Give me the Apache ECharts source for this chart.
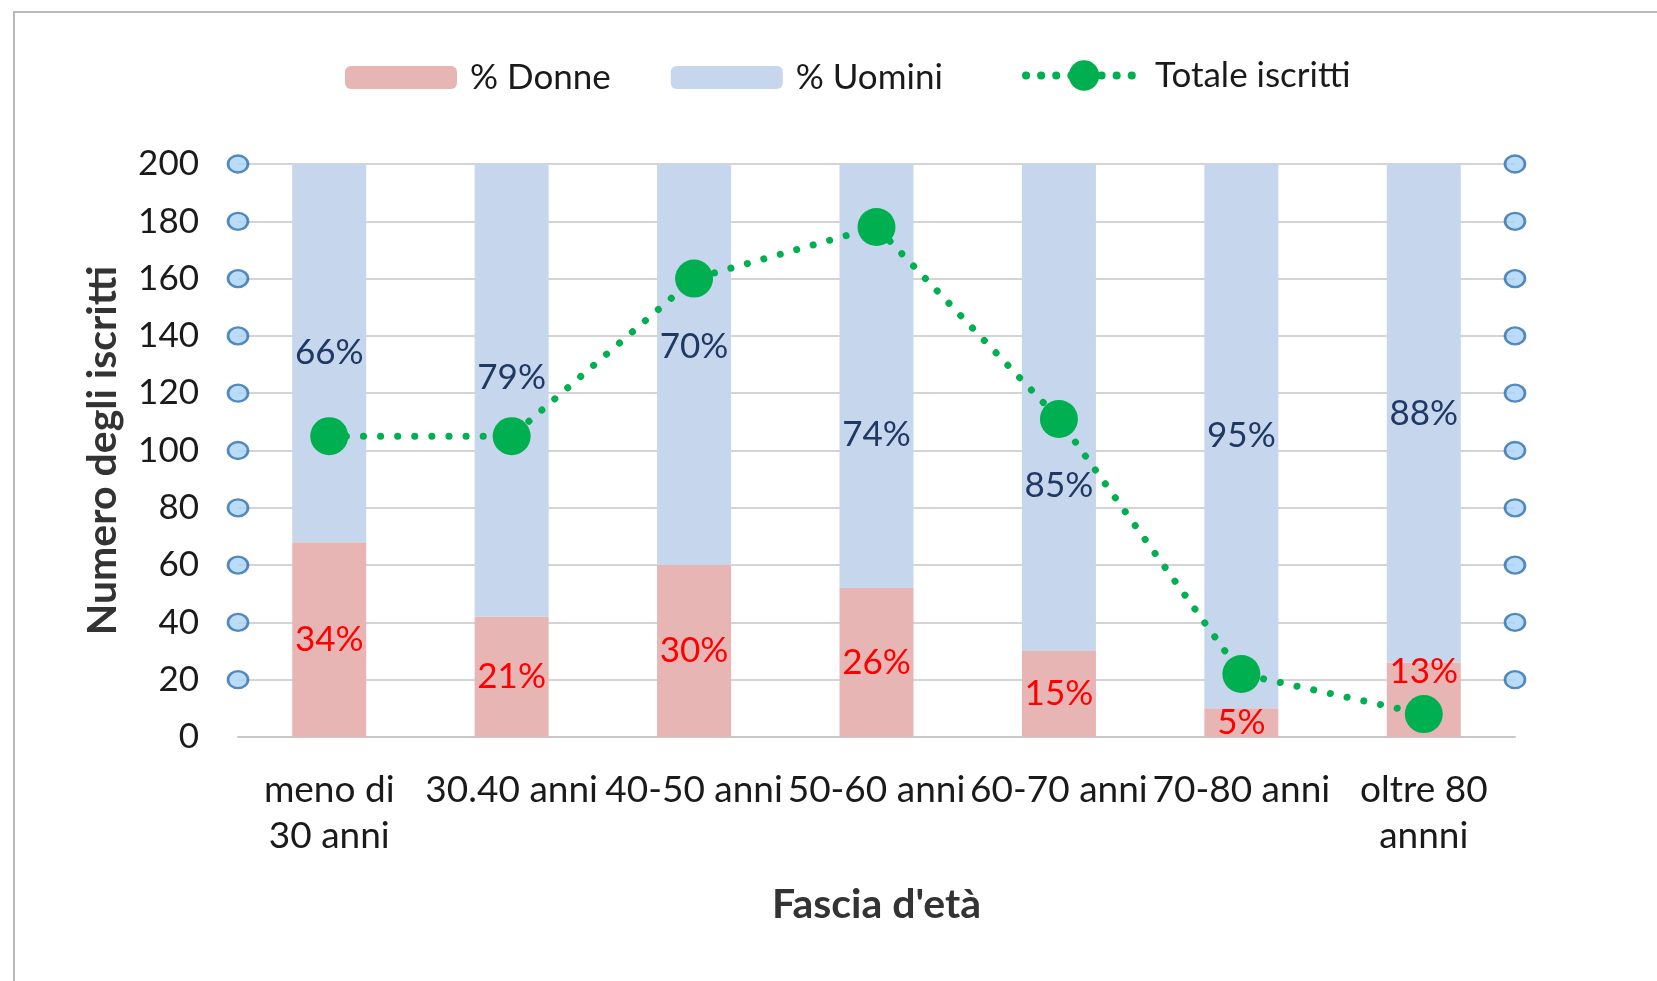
<!DOCTYPE html>
<html>
<head>
<meta charset="utf-8">
<script src="https://cdn.jsdelivr.net/npm/echarts@6/dist/echarts.min.js"></script>
<style>
  body { margin: 0; background: #fff; }
  #chart { width: 1657px; height: 981px; }
  #frame { position: absolute; left: 13px; top: 11px; right: 0; bottom: 0;
           border-left: 2px solid #b8b8b8; border-top: 2px solid #b8b8b8; pointer-events: none; }
</style>
</head>
<body>
<div id="chart"></div>
<div id="frame"></div>
<script>
var categories = ['meno di\n30 anni', '30.40 anni', '40-50 anni', '50-60 anni', '60-70 anni', '70-80 anni', 'oltre 80\nannni'];
var donne = [34, 21, 30, 26, 15, 5, 13];
var uomini = [66, 79, 70, 74, 85, 95, 88];
var totale = [105, 105, 160, 178, 111, 22, 8];
var yTicks = [20, 40, 60, 80, 100, 120, 140, 160, 180, 200];

var FONT = 'Lato';
var FS = 35;

// labels moved in the original to keep clear of the line
var uominiShift = {1: -13, 2: -18, 3: 59, 4: 78};
var donneShift = {6: -28};

function barData(vals, shift) {
    return vals.map(function (v, i) {
        var item = {value: v};
        if (shift[i]) item.label = {offset: [0, shift[i]]};
        return item;
    });
}

// little circles on both axis edges
var edgeDots = [];
yTicks.forEach(function (t) {
    edgeDots.push([-0.5, t]);
    edgeDots.push([categories.length - 0.5, t]);
});

var chart = echarts.init(document.getElementById('chart'));
var option = {
    animation: false,
    textStyle: {fontFamily: FONT},
    grid: {left: 238, right: 142, top: 164, bottom: 244},
    legend: [{
        data: ['% Donne', '% Uomini'],
        left: 340, top: 55,
        itemWidth: 112, itemHeight: 23, itemGap: 60,
        textStyle: {fontSize: FS, color: '#1a1a1a', fontFamily: FONT, padding: [0, 0, 0, 8]}
    }, {
        data: ['Totale iscritti'],
        left: 1017, top: 53,
        itemWidth: 116, itemHeight: 38,
        lineStyle: {width: 8, type: [0.1, 15], cap: 'round', color: '#00b050'},
        textStyle: {fontSize: FS, color: '#1a1a1a', fontFamily: FONT, padding: [0, 0, 0, 8]}
    }],
    xAxis: [{
        type: 'category',
        data: categories,
        name: "Fascia d'età",
        nameLocation: 'middle',
        nameGap: 147,
        nameTextStyle: {fontSize: 41, fontWeight: 'bold', color: '#333', fontFamily: FONT},
        axisLine: {lineStyle: {color: '#c8c8c8', width: 2}},
        axisTick: {show: false},
        axisLabel: {interval: 0, fontSize: 37, color: '#1a1a1a', margin: 30, lineHeight: 46, fontFamily: FONT}
    }, {
        type: 'value', min: -0.5, max: categories.length - 0.5, show: false
    }],
    yAxis: [{
        type: 'value', min: 0, max: 200, interval: 20,
        name: 'Numero degli iscritti',
        nameLocation: 'middle',
        nameGap: 115,
        nameTextStyle: {fontSize: 41, fontWeight: 'bold', color: '#333', fontFamily: FONT},
        axisLine: {show: false},
        axisTick: {show: false},
        axisLabel: {fontSize: FS, color: '#1a1a1a', margin: 39, fontFamily: FONT},
        splitLine: {lineStyle: {color: '#d4d4d4', width: 2}}
    }, {
        type: 'value', min: 0, max: 100, show: false, splitLine: {show: false}
    }],
    series: [{
        name: '% Donne',
        type: 'bar',
        stack: 'pct',
        yAxisIndex: 1,
        barWidth: 74,
        itemStyle: {color: '#e6b5b4'},
        label: {show: true, position: 'inside', formatter: '{c}%', fontSize: FS, color: '#ff0000', fontFamily: FONT},
        data: barData(donne, donneShift)
    }, {
        name: '% Uomini',
        type: 'bar',
        stack: 'pct',
        yAxisIndex: 1,
        barWidth: 74,
        itemStyle: {color: '#c6d6ec'},
        label: {show: true, position: 'inside', formatter: '{c}%', fontSize: FS, color: '#1f3864', fontFamily: FONT},
        data: barData(uomini, uominiShift)
    }, {
        name: 'Totale iscritti',
        type: 'line',
        yAxisIndex: 0,
        symbol: 'circle',
        symbolSize: 38,
        itemStyle: {color: '#00b050'},
        lineStyle: {color: '#00b050', width: 7, type: [0.1, 17], cap: 'round'},
        data: totale,
        z: 5
    }, {
        name: 'edge',
        type: 'scatter',
        xAxisIndex: 1,
        yAxisIndex: 0,
        symbol: 'circle',
        symbolSize: [20, 17],
        clip: false,
        itemStyle: {color: '#a9d3f7', borderColor: '#2f6fae', borderWidth: 2.5},
        data: edgeDots,
        z: 4
    }]
};
chart.setOption(option);
</script>
</body>
</html>
